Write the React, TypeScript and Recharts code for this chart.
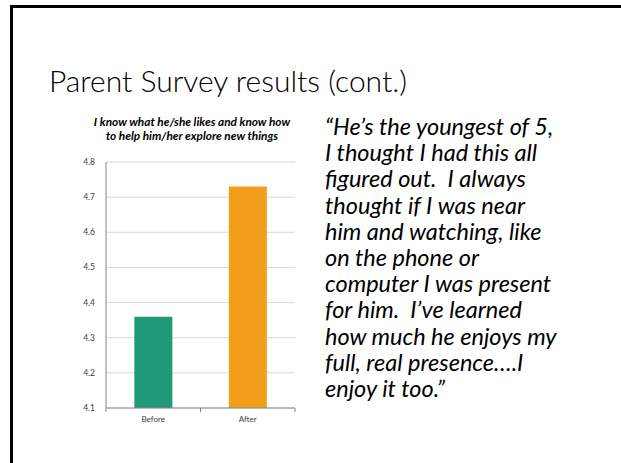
import { BarChart, Bar, XAxis, YAxis, CartesianGrid, Cell } from 'recharts';

const categories = ['Before', 'After'];
const scores = [4.36, 4.73];
const barColors = ['#1e9a79', '#f09e1c'];
const yTicks = [4.1, 4.2, 4.3, 4.4, 4.5, 4.6, 4.7, 4.8];

const slideTitle = 'Parent Survey results (cont.)';
const chartTitle = ['I know what he/she likes and know how', 'to help him/her explore new things'];
const quoteLines = [
  '\u201CHe\u2019s the youngest of 5,',
  'I thought I had this all',
  'figured out.  I always',
  'thought if I was near',
  'him and watching, like',
  'on the phone or',
  'computer I was present',
  'for him.  I\u2019ve learned',
  'how much he enjoys my',
  'full, real presence\u2026.I',
  'enjoy it too.\u201D',
];

const data = categories.map((name, i) => ({ name, score: scores[i] }));

const CategoryTick = (props: any) => {
  const { x, y, payload, index } = props;
  const half = payload.offset || 0;
  return (
    <g>
      <line x1={x - half} x2={x - half} y1={y - 8} y2={y - 4} stroke="#868686" />
      {index === categories.length - 1 && (
        <line x1={x + half} x2={x + half} y1={y - 8} y2={y - 4} stroke="#868686" />
      )}
      <text x={x} y={y + 6} textAnchor="middle" fontSize={8} fill="#404040">
        {payload.value}
      </text>
    </g>
  );
};

export default function App() {
  return (
    <div
      style={{
        position: 'absolute',
        left: 0,
        top: 0,
        width: 621,
        height: 463,
        overflow: 'hidden',
        background: '#fff',
        fontFamily: 'Lato, sans-serif',
      }}
    >
      <div
        style={{
          position: 'absolute',
          left: 10,
          top: 5,
          width: 700,
          height: 600,
          border: '3px solid #000',
        }}
      />
      <div
        style={{
          position: 'absolute',
          left: 49,
          top: 62,
          fontSize: 30,
          fontWeight: 300,
          color: '#000',
          whiteSpace: 'nowrap',
        }}
      >
        {slideTitle}
      </div>
      <div
        style={{
          position: 'absolute',
          left: 60,
          top: 115,
          width: 264,
          textAlign: 'center',
          fontSize: 11.8,
          fontWeight: 700,
          fontStyle: 'italic',
          lineHeight: '13.5px',
          color: '#000',
          whiteSpace: 'nowrap',
        }}
      >
        {chartTitle.map((t) => (
          <div key={t}>{t}</div>
        ))}
      </div>
      <div style={{ position: 'absolute', left: 60, top: 150 }}>
        <BarChart
          width={245}
          height={290}
          data={data}
          margin={{ top: 12, right: 10, bottom: 12, left: 0 }}
          barCategoryGap="30%"
        >
          <CartesianGrid vertical={false} stroke="#d9d9d9" />
          <XAxis
            dataKey="name"
            stroke="#868686"
            tickLine={false}
            height={20}
            tick={<CategoryTick />}
          />
          <YAxis
            domain={[4.1, 4.8]}
            ticks={yTicks}
            width={46}
            stroke="#868686"
            tickLine={false}
            tickMargin={5}
            tick={{ fontSize: 8.5, fill: '#404040' }}
            tickFormatter={(v: number) => v.toFixed(1)}
            allowDataOverflow
          />
          <Bar dataKey="score" isAnimationActive={false}>
            {data.map((d, i) => (
              <Cell key={d.name} fill={barColors[i]} />
            ))}
          </Bar>
        </BarChart>
      </div>
      <div
        style={{
          position: 'absolute',
          left: 325,
          top: 113,
          fontSize: 23.5,
          fontStyle: 'italic',
          lineHeight: '26.2px',
          color: '#000',
          whiteSpace: 'pre',
        }}
      >
        {quoteLines.map((l) => (
          <div key={l}>{l}</div>
        ))}
      </div>
    </div>
  );
}
